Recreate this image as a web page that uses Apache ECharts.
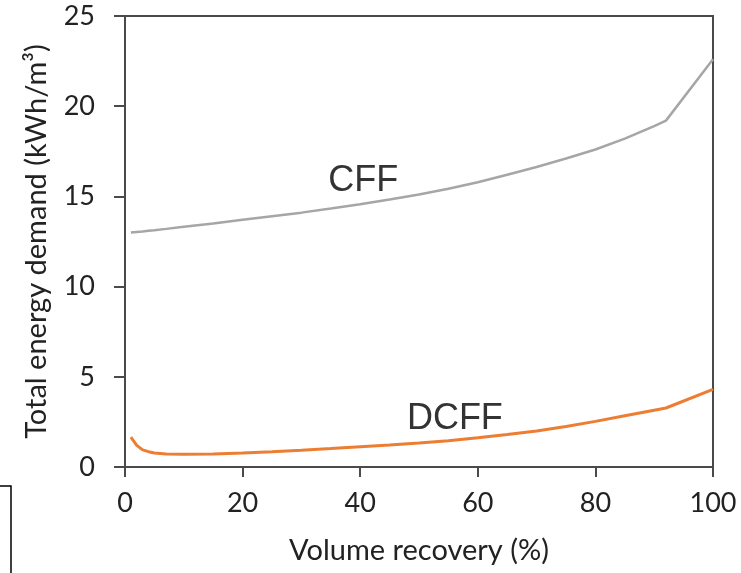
<!DOCTYPE html>
<html>
<head>
<meta charset="utf-8">
<script src="https://cdn.jsdelivr.net/npm/echarts@6/dist/echarts.min.js"></script>
<style>
html,body{margin:0;padding:0;background:#fff;}
#chart{width:741px;height:573px;}
</style>
</head>
<body>
<div id="chart"></div>
<script>
const recovery = [1, 2, 3, 4, 5, 7, 10, 15, 20, 25, 30, 35, 40, 45, 50, 55, 60, 65, 70, 75, 80, 85, 90, 92, 100];
const cffValues = [13.0, 13.03, 13.06, 13.1, 13.13, 13.2, 13.32, 13.5, 13.7, 13.9, 14.1, 14.33, 14.57, 14.83, 15.1, 15.42, 15.78, 16.2, 16.63, 17.1, 17.6, 18.2, 18.9, 19.2, 22.6];
const dcffValues = [1.65, 1.2, 0.95, 0.85, 0.78, 0.72, 0.7, 0.72, 0.78, 0.85, 0.93, 1.02, 1.12, 1.22, 1.33, 1.46, 1.62, 1.8, 2.0, 2.25, 2.53, 2.84, 3.15, 3.27, 4.3];
const xTicks = [0, 20, 40, 60, 80, 100];
const yTicks = [0, 5, 10, 15, 20, 25];
const seriesNames = ['CFF', 'DCFF'];
const labelPositions = [[40.5, 15.87], [56.1, 2.68]];

const pair = (xs, ys) => xs.map((x, i) => [x, ys[i]]);
const axisColor = '#4a4a4a';
const textColor = '#222222';
const font = 'Lato, "Open Sans", sans-serif';

const chart = echarts.init(document.getElementById('chart'));
chart.setOption({
  animation: false,
  backgroundColor: '#fff',
  grid: { left: 125, right: 28, top: 16, bottom: 106, show: true, borderColor: axisColor, borderWidth: 2, backgroundColor: 'transparent' },
  xAxis: {
    type: 'value', min: xTicks[0], max: xTicks[xTicks.length - 1], interval: 20,
    name: 'Volume recovery (%)', nameLocation: 'middle', nameGap: 69,
    nameTextStyle: { fontFamily: font, fontSize: 29, color: textColor },
    axisLine: { show: true, onZero: false, lineStyle: { color: axisColor, width: 2 } },
    axisTick: { show: true, inside: false, length: 10, lineStyle: { color: axisColor, width: 2 } },
    axisLabel: { fontFamily: font, fontSize: 27, color: textColor, margin: 23 },
    splitLine: { show: false }
  },
  yAxis: {
    type: 'value', min: yTicks[0], max: yTicks[yTicks.length - 1], interval: 5,
    name: 'Total energy demand (kWh/m\u00B3)', nameLocation: 'middle', nameGap: 74,
    nameTextStyle: { fontFamily: font, fontSize: 29, color: textColor },
    axisLine: { show: true, onZero: false, lineStyle: { color: axisColor, width: 2 } },
    axisTick: { show: true, inside: false, length: 11, lineStyle: { color: axisColor, width: 2 } },
    axisLabel: { fontFamily: font, fontSize: 27, color: textColor, margin: 30 },
    splitLine: { show: false }
  },
  series: [
    {
      name: seriesNames[0], type: 'line', showSymbol: false, symbol: 'none', smooth: false,
      data: pair(recovery, cffValues),
      lineStyle: { color: '#a6a6a6', width: 2.5 },
      markPoint: {
        symbol: 'circle', symbolSize: 0,
        label: { show: true, formatter: seriesNames[0], fontFamily: '"Liberation Sans", Arial, sans-serif', fontSize: 36, color: '#333333', position: 'inside' },
        data: [{ coord: labelPositions[0] }]
      }
    },
    {
      name: seriesNames[1], type: 'line', showSymbol: false, symbol: 'none', smooth: false,
      data: pair(recovery, dcffValues),
      lineStyle: { color: '#ed7d31', width: 3 },
      markPoint: {
        symbol: 'circle', symbolSize: 0,
        label: { show: true, formatter: seriesNames[1], fontFamily: '"Liberation Sans", Arial, sans-serif', fontSize: 36, color: '#333333', position: 'inside' },
        data: [{ coord: labelPositions[1] }]
      }
    }
  ],
  graphic: [
    { type: 'rect', shape: { x: -10, y: 486, width: 21, height: 120 }, style: { fill: 'none', stroke: '#000', lineWidth: 1.5 } }
  ]
});
</script>
</body>
</html>
